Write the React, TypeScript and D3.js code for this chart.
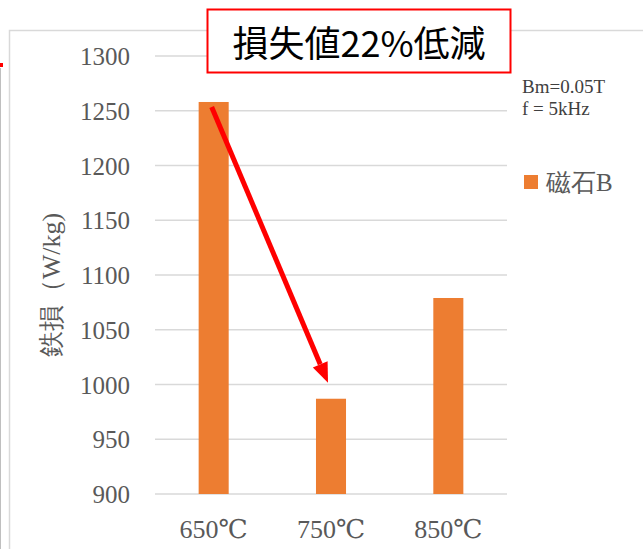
import React from "react";
import * as d3 from "d3";

const categories = ["650℃", "750℃", "850℃"];
const values = [1258, 987, 1079];
const yTicks = [900, 950, 1000, 1050, 1100, 1150, 1200, 1250, 1300];
const seriesName = "磁石B";
const yTitle = "鉄損（W/kg)";
const annotation = "損失値22%低減";
const conditions = ["Bm=0.05T", "f = 5kHz"];

const W = 643;
const H = 549;
const BAR = "#ED7D31";
const GRID = "#d9d9d9";
const TXT = "#595959";
const SERIF = "Liberation Serif, Tinos, Times New Roman, DejaVu Serif, serif";
const SANS = "Noto Sans CJK JP, Noto Sans, sans-serif";

export default function App() {
  const x = d3.scaleBand<string>().domain(categories).range([155, 507]).paddingInner(0.744).paddingOuter(0.372);
  const y = d3.scaleLinear().domain([900, 1300]).range([494, 56]);

  const x0 = (x(categories[0]) ?? 0) + x.bandwidth() / 2 - 2;
  const y0 = y(values[0]) + 5;
  const x1 = (x(categories[1]) ?? 0) + x.bandwidth() / 2 - 3;
  const y1 = y(values[1]) - 16;
  const ang = Math.atan2(y1 - y0, x1 - x0);
  const headL = 20, headW = 8;
  const bx = x1 - headL * Math.cos(ang), by = y1 - headL * Math.sin(ang);
  const px = -Math.sin(ang), py = Math.cos(ang);

  const serif = { fontFamily: SERIF };

  return (
    <svg width={W} height={H} style={{ position: "absolute", left: 0, top: 0, background: "#fff" }}>
      <rect x={0} y={0} width={W} height={H} fill="#fff" />
      <rect x={9.5} y={30.5} width={W} height={H} fill="none" stroke={GRID} strokeWidth={1.5} />
      <line x1={0.5} x2={0.5} y1={68} y2={H} stroke="#bfbfbf" strokeWidth={1} />
      <rect x={0} y={63} width={3} height={4} fill="#ff0000" />
      {yTicks.map((t) => (
        <line key={t} x1={155} x2={507} y1={y(t)} y2={y(t)} stroke={GRID} strokeWidth={1.5} />
      ))}
      {yTicks.map((t) => (
        <text key={"l" + t} x={130} y={y(t)} dy="0.36em" textAnchor="end" style={serif} fontSize={25} fill={TXT}>
          {t}
        </text>
      ))}
      {categories.map((c, i) => (
        <rect key={c} x={x(c)} y={y(values[i])} width={x.bandwidth()} height={y(900) - y(values[i])} fill={BAR} />
      ))}
      {categories.map((c) => (
        <text key={"x" + c} x={(x(c) ?? 0) + x.bandwidth() / 2} y={538} textAnchor="middle" style={serif} fontSize={26} fill={TXT}>
          {c}
        </text>
      ))}
      <text transform={`translate(60,285) rotate(-90)`} textAnchor="middle" style={serif} fontSize={26} fill={TXT}>
        {yTitle}
      </text>
      {conditions.map((c, i) => (
        <text key={c} x={522} y={93 + i * 22} style={serif} fontSize={19} fill="#404040">
          {c}
        </text>
      ))}
      <rect x={524} y={175} width={14} height={14} fill={BAR} />
      <text x={546} y={191} style={serif} fontSize={25} fill={TXT}>
        {seriesName}
      </text>
      <line x1={x0} y1={y0} x2={bx} y2={by} stroke="#ff0000" strokeWidth={5} />
      <polygon
        points={`${x1},${y1} ${bx + px * headW},${by + py * headW} ${bx - px * headW},${by - py * headW}`}
        fill="#ff0000"
      />
      <rect x={207.5} y={9.5} width={303} height={63} fill="#fff" stroke="#ff0000" strokeWidth={2} />
      <text x={359} y={57} textAnchor="middle" style={{ fontFamily: SANS }} fontSize={36} fill="#000">
        {annotation}
      </text>
    </svg>
  );
}
